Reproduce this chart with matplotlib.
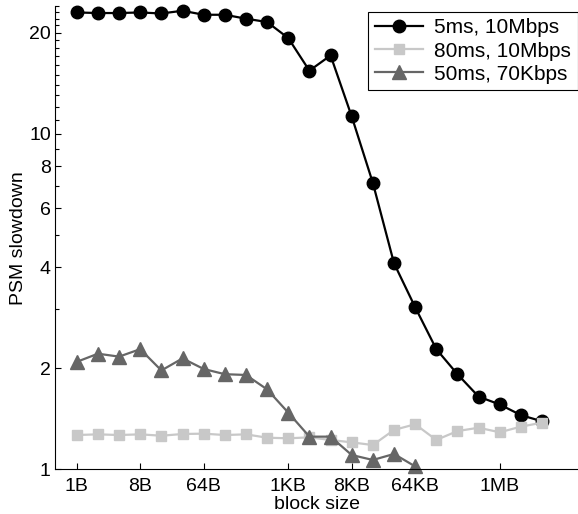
# PSM slowdown vs. block size for three network setups

import matplotlib
matplotlib.use("Agg")
import matplotlib.pyplot as plt
from matplotlib.ticker import FixedLocator, NullFormatter, NullLocator

plt.rcParams["font.family"] = ["Liberation Sans", "DejaVu Sans"]

# block sizes as powers of two: 1B .. 4MB
exponents = list(range(23))
block_sizes = [2 ** e for e in exponents]

lan_5ms = [22.96, 22.87, 22.87, 22.96, 22.8, 23.23, 22.6, 22.6, 22.0, 21.5,
           19.26, 15.4, 17.1, 11.25, 7.13, 4.11, 3.04, 2.28, 1.92, 1.646,
           1.56, 1.45, 1.39]
wan_80ms = [1.265, 1.271, 1.265, 1.271, 1.259, 1.274, 1.277, 1.265, 1.271, 1.242,
            1.237, 1.245, 1.223, 1.203, 1.181, 1.31, 1.362, 1.223, 1.30, 1.33,
            1.289, 1.34, 1.377]
slow_50ms = [2.09, 2.21, 2.166, 2.28, 1.97, 2.14, 1.99, 1.92, 1.91, 1.73,
             1.475, 1.251, 1.251, 1.103, 1.066, 1.111, 1.02]

series_labels = ["5ms, 10Mbps", "80ms, 10Mbps", "50ms, 70Kbps"]

x_tick_exps = [0, 3, 6, 10, 13, 16, 20]
x_tick_labels = ["1B", "8B", "64B", "1KB", "8KB", "64KB", "1MB"]
y_major = [1, 2, 4, 6, 8, 10, 20]
y_minor = [3, 5, 7, 9, 11, 12, 13, 14, 15, 16, 17, 18, 19, 21, 22, 23, 24]

W, H = 578, 514
fig = plt.figure(figsize=(W / 100, H / 100), dpi=100)
ax = fig.add_axes([55 / W, (H - 469.3) / H, (W - 55) / W, (469.3 - 6) / H])

ax.plot(block_sizes, lan_5ms, color="black", lw=1.6, marker="o", ms=9,
        label=series_labels[0], clip_on=False)
ax.plot(block_sizes, wan_80ms, color="#c8c8c8", lw=1.6, marker="s", ms=7.5,
        label=series_labels[1], clip_on=False)
ax.plot(block_sizes[:len(slow_50ms)], slow_50ms, color="#666666", lw=1.6,
        marker="^", ms=10, label=series_labels[2], clip_on=False)

ax.set_xscale("log", base=2)
ax.set_yscale("log")
ax.set_xlim(2 ** -1.03, 2 ** 23.7)
ax.set_ylim(1, 24)

ax.xaxis.set_major_locator(FixedLocator([2 ** e for e in x_tick_exps]))
ax.xaxis.set_minor_locator(NullLocator())
ax.set_xticklabels(x_tick_labels)
ax.yaxis.set_major_locator(FixedLocator(y_major))
ax.yaxis.set_minor_locator(FixedLocator(y_minor))
ax.yaxis.set_minor_formatter(NullFormatter())
ax.set_yticklabels([str(v) for v in y_major])

ax.tick_params(which="both", direction="in", labelsize=14, width=0.8)
ax.tick_params(axis="x", which="major", length=4, pad=6)
ax.tick_params(axis="y", which="major", length=4, pad=3)
ax.tick_params(axis="y", which="minor", length=3)

for side in ("top", "right"):
    ax.spines[side].set_visible(False)
for side in ("left", "bottom"):
    ax.spines[side].set_linewidth(0.8)

ax.set_xlabel("block size", fontsize=14, labelpad=1)
ax.set_ylabel("PSM slowdown", fontsize=14, labelpad=1.5)

leg = ax.legend(loc="upper right", bbox_to_anchor=(1.0, 1 - 5.7 / 463.3),
                borderaxespad=0, fontsize=15, fancybox=False, framealpha=1,
                edgecolor="black", handlelength=2.3, handletextpad=0.55,
                labelspacing=0.2, borderpad=0.32)
leg.get_frame().set_linewidth(0.8)

fig.savefig("out.png", dpi=100)
